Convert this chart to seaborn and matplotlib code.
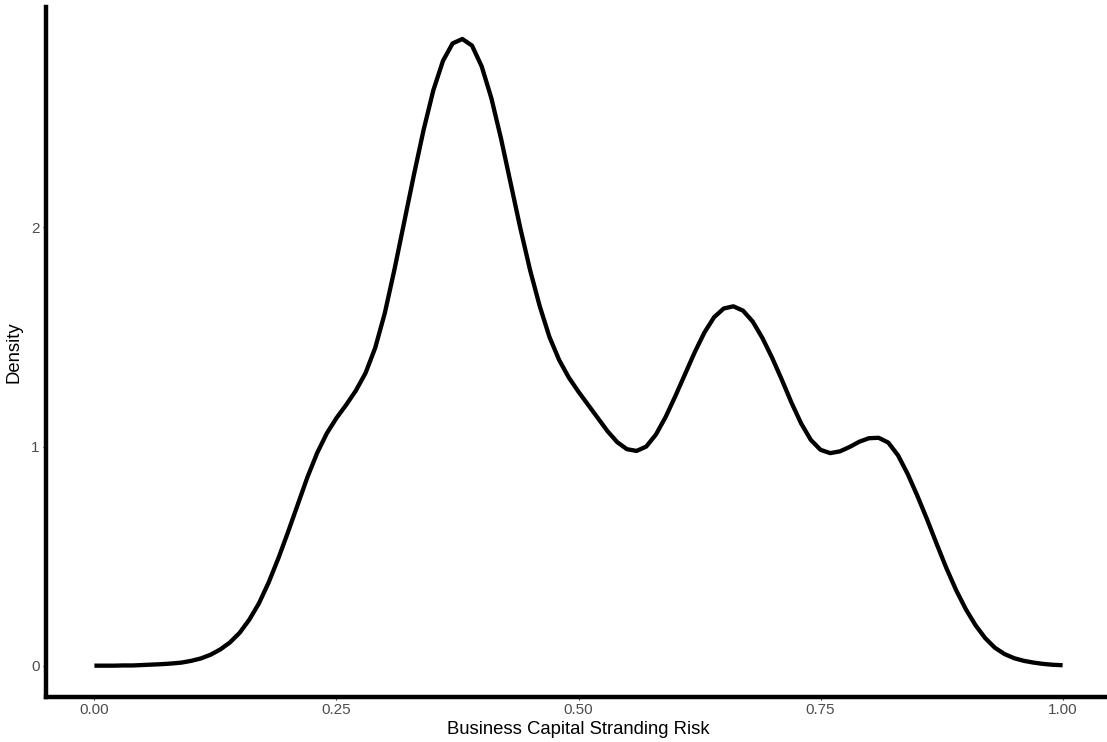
import matplotlib
matplotlib.use("Agg")
import matplotlib.pyplot as plt
import seaborn as sns
import pandas as pd

# density curve, every 0.01 on the x axis
risk = [round(i / 100, 2) for i in range(101)]
density = [0.000, 0.000, 0.000, 0.001, 0.001, 0.003, 0.005, 0.007, 0.010, 0.014,
           0.022, 0.033, 0.050, 0.074, 0.106, 0.150, 0.210, 0.285, 0.380, 0.490,
           0.610, 0.735, 0.860, 0.970, 1.060, 1.130, 1.190, 1.255, 1.335, 1.450,
           1.610, 1.810, 2.025, 2.240, 2.445, 2.625, 2.760, 2.840, 2.860, 2.830,
           2.735, 2.590, 2.405, 2.200, 1.995, 1.805, 1.640, 1.500, 1.395, 1.315,
           1.250, 1.190, 1.130, 1.070, 1.020, 0.988, 0.980, 1.000, 1.055, 1.135,
           1.230, 1.330, 1.430, 1.520, 1.590, 1.630, 1.640, 1.620, 1.570, 1.495,
           1.405, 1.305, 1.200, 1.105, 1.030, 0.985, 0.970, 0.978, 0.998, 1.022,
           1.038, 1.040, 1.018, 0.960, 0.875, 0.775, 0.668, 0.555, 0.445, 0.345,
           0.258, 0.185, 0.126, 0.082, 0.053, 0.034, 0.022, 0.014, 0.008, 0.004,
           0.002]

x_ticks = [0.0, 0.25, 0.5, 0.75, 1.0]
x_tick_labels = ["0.00", "0.25", "0.50", "0.75", "1.00"]
y_ticks = [0, 1, 2]
y_tick_labels = ["0", "1", "2"]

df = pd.DataFrame({"risk": risk, "density": density})

sns.set_theme(style="white")
plt.rcParams["font.family"] = ["Liberation Sans", "DejaVu Sans"]

W, H = 1107, 742
fig = plt.figure(figsize=(W / 100, H / 100), dpi=100)
ax = fig.add_axes([46 / W, 45 / H, (1111 - 46) / W, 690 / H])

sns.lineplot(data=df, x="risk", y="density", color="black", linewidth=3.1,
             ax=ax, solid_capstyle="butt", solid_joinstyle="round")

ax.set_xlim(-0.05, 1.05)
ax.set_ylim(-0.143, 3.006)

ax.set_xticks(x_ticks)
ax.set_xticklabels(x_tick_labels)
ax.set_yticks(y_ticks)
ax.set_yticklabels(y_tick_labels)
ax.tick_params(axis="both", which="major", length=2.5, width=0.8, color="#333333",
               labelcolor="#4D4D4D", labelsize=11, pad=2,
               bottom=True, left=True)

ax.set_xlabel("Business Capital Stranding Risk", fontsize=13.3, color="black", labelpad=3)
ax.set_ylabel("Density", fontsize=13.3, color="black", labelpad=6)

for side in ["top", "right"]:
    ax.spines[side].set_visible(False)
for side in ["left", "bottom"]:
    ax.spines[side].set_color("black")
    ax.spines[side].set_linewidth(3.2)

ax.grid(False)
fig.savefig("out.png", dpi=100)
